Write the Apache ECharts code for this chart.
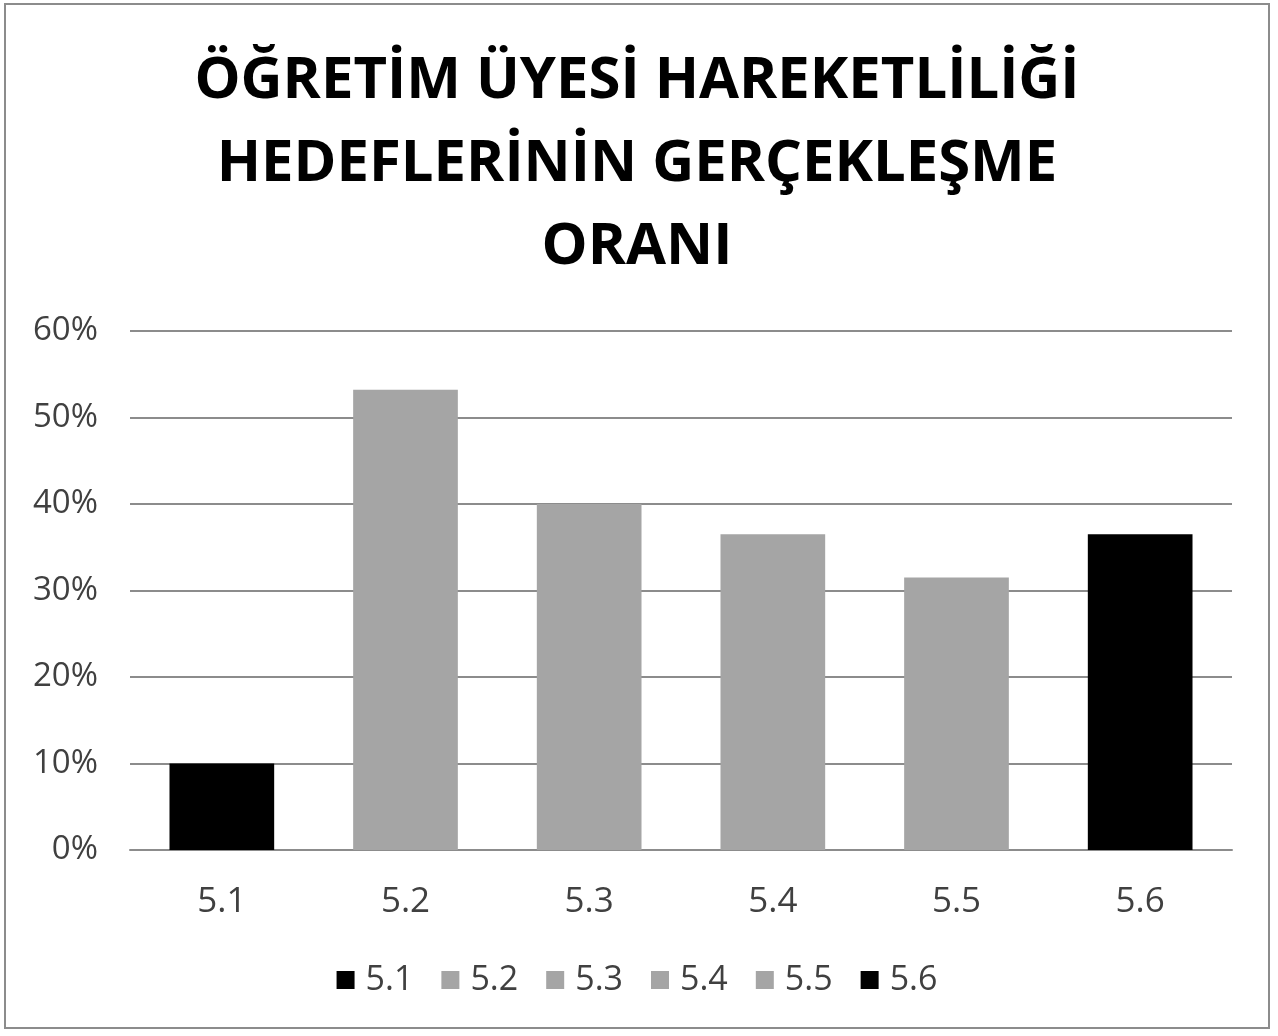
<!DOCTYPE html>
<html>
<head>
<meta charset="utf-8">
<script src="https://cdn.jsdelivr.net/npm/echarts@6/dist/echarts.min.js"></script>
<style>
  html, body { margin: 0; padding: 0; background: #fff; }
  #chart { position: absolute; left: 4px; top: 3px; width: 1266px; height: 1026px; border: 2px solid #8c8c8c; box-sizing: border-box; }
</style>
</head>
<body>
<div id="chart"></div>
<script>
const categories = ['5.1', '5.2', '5.3', '5.4', '5.5', '5.6'];
const values = [10, 53.2, 40, 36.5, 31.5, 36.5];
const barColors = ['#000000', '#a5a5a5', '#a5a5a5', '#a5a5a5', '#a5a5a5', '#000000'];
const yTicks = [0, 10, 20, 30, 40, 50, 60];

const chart = echarts.init(document.getElementById('chart'));

// one series per category so the legend lists each bar
const series = categories.map((name, i) => ({
    name: name,
    type: 'bar',
    stack: 'all',
    barWidth: '57%',
    itemStyle: { color: barColors[i] },
    data: values.map((v, j) => (j === i ? v : null))
}));

const option = {
    animation: false,
    title: {
        text: 'ÖĞRETİM ÜYESİ HAREKETLİLİĞİ\nHEDEFLERİNİN GERÇEKLEŞME\nORANI',
        left: 'center',
        top: 30,
        textStyle: {
            fontFamily: 'Open Sans',
            fontWeight: 'bold',
            fontSize: 58,
            lineHeight: 83,
            color: '#000'
        }
    },
    legend: {
        bottom: 25,
        left: 'center',
        icon: 'rect',
        itemWidth: 18,
        itemHeight: 18,
        itemGap: 28,
        textStyle: { fontFamily: 'Open Sans', fontSize: 34, color: '#404040', padding: [0, 0, 0, 6] },
        data: categories
    },
    grid: { left: 124, right: 36, top: 326, bottom: 177 },
    xAxis: {
        type: 'category',
        data: categories,
        axisLine: { lineStyle: { color: '#8c8c8c', width: 2 } },
        axisTick: { show: false },
        axisLabel: { fontFamily: 'Open Sans', fontSize: 35, color: '#404040', margin: 35 }
    },
    yAxis: {
        type: 'value',
        min: yTicks[0],
        max: yTicks[yTicks.length - 1],
        interval: 10,
        axisLine: { show: false },
        axisTick: { show: false },
        splitLine: { lineStyle: { color: '#8c8c8c', width: 2 } },
        axisLabel: { fontFamily: 'Open Sans', fontSize: 33, color: '#404040', margin: 32, formatter: '{value}%' }
    },
    series: series
};

chart.setOption(option);
</script>
</body>
</html>
